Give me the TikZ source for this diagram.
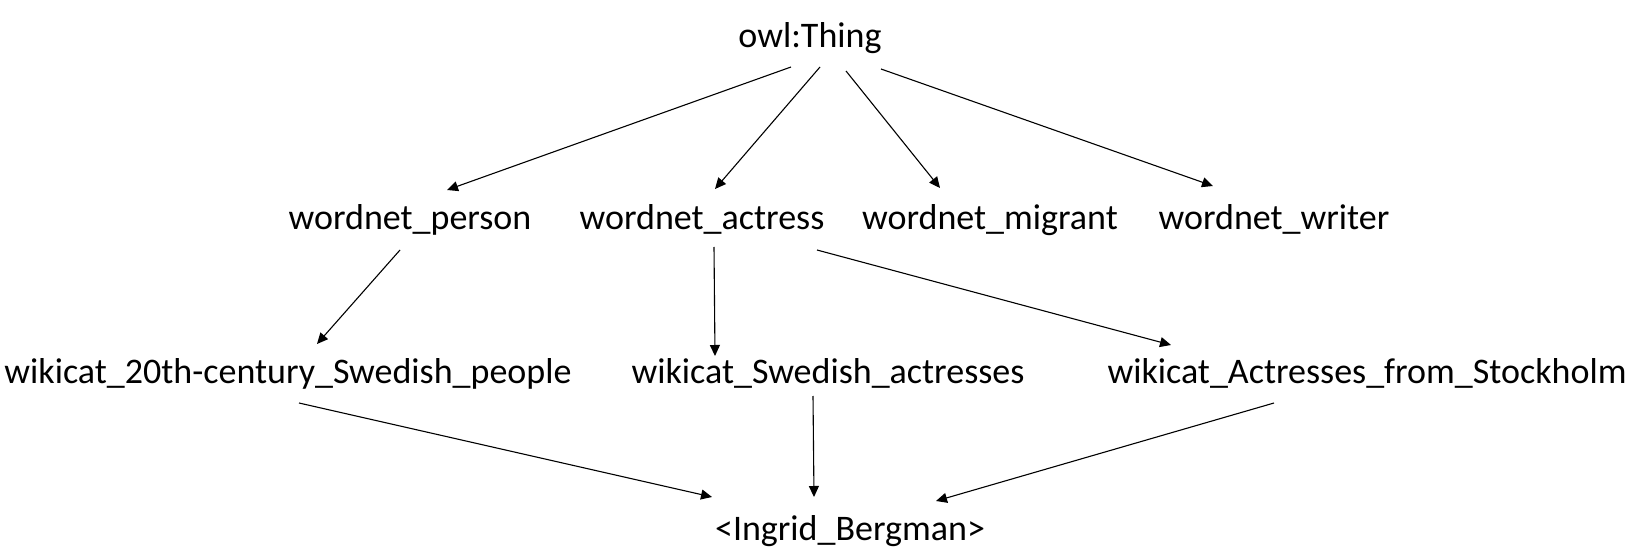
\documentclass[tikz,border=0pt]{standalone}
\usepackage{fontspec}
\setmainfont{Carlito}
\usetikzlibrary{arrows.meta}
\begin{document}
\begin{tikzpicture}[x=1pt,y=-1pt]
\tikzstyle{cls} = [inner sep=0pt, anchor=base, font=\fontsize{36}{43}\selectfont]
\tikzstyle{line} = [draw, line width=1.1pt, -{Triangle[length=11pt,width=10pt]}];
\useasboundingbox (0,0) rectangle (1636,553);
% top
\node [cls] (thing) at (810,48) {owl:Thing};
% row 1
\node [cls] (person) at (410,230) {wordnet\_person};
\node [cls] (actress) at (702,230) {wordnet\_actress};
\node [cls] (migrant) at (990,230) {wordnet\_migrant};
\node [cls] (writer) at (1274,230) {wordnet\_writer};
% row 2
\node [cls] (people) at (288,383) {wikicat\_20th-century\_Swedish\_people};
\node [cls] (swedish) at (828,383) {wikicat\_Swedish\_actresses};
\node [cls] (stockholm) at (1367,383) {wikicat\_Actresses\_from\_Stockholm};
% row 3
\node [cls] (ingrid) at (850,540) {<Ingrid\_Bergman>};
\tikzstyle{every path}=[line]
\path ([shift={(-19,19)}]thing.base) -- ([shift={(37,-40)}]person.base);
\path ([shift={(10,19)}]thing.base) -- ([shift={(13,-41)}]actress.base);
\path ([shift={(36,23)}]thing.base) -- ([shift={(-50,-42)}]migrant.base);
\path ([shift={(71,21)}]thing.base) -- ([shift={(-61,-44)}]writer.base);
\path ([shift={(-10,20)}]person.base) -- ([shift={(29,-39)}]people.base);
\path ([shift={(12,17)}]actress.base) -- ([shift={(-113,-27)}]swedish.base);
\path ([shift={(115,20)}]actress.base) -- ([shift={(-196,-38)}]stockholm.base);
\path ([shift={(11,20)}]people.base) -- ([shift={(-138,-43)}]ingrid.base);
\path ([shift={(-15,13)}]swedish.base) -- ([shift={(-36,-43)}]ingrid.base);
\path ([shift={(-93,20)}]stockholm.base) -- ([shift={(86,-39)}]ingrid.base);
\end{tikzpicture}
\end{document}
